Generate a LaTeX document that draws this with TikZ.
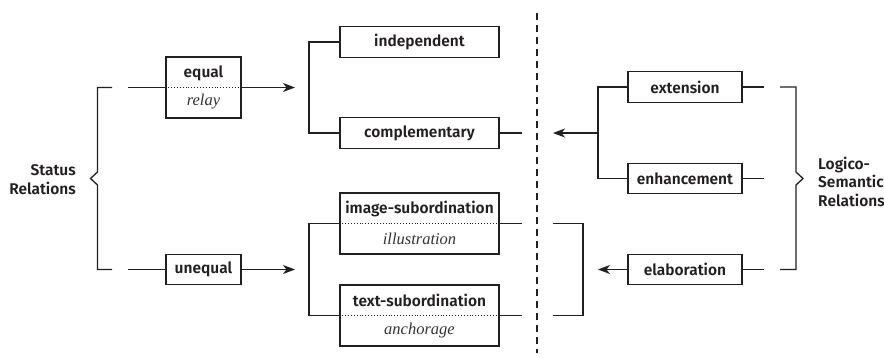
\documentclass[tikz,border=0pt]{standalone}
\usepackage{fontspec}
\setmainfont{Fira Sans}[UprightFont={* SemiBold}]
\newfontfamily\itfnt{Liberation Serif}
\usetikzlibrary{arrows.meta}
\definecolor{ink}{HTML}{231F20}
\tikzset{
  box/.style={draw=ink, line width=1.3bp, inner sep=0pt, minimum width=159bp, minimum height=30.5bp},
  lab/.style={font=\fontsize{15.5bp}{17bp}\selectfont, text=ink, inner sep=0pt},
  itl/.style={font=\itfnt\itshape\fontsize{16.5bp}{18bp}\selectfont, text=black!80, inner sep=0pt},
  ln/.style={draw=ink, line width=1.3bp},
  arr/.style={draw=ink, fill=ink, line width=1.3bp, -{Stealth[length=12bp,width=9bp,inset=3.5bp]}},
  dotl/.style={draw=ink, line width=0.9bp, dotted},
}
\begin{document}
\begin{tikzpicture}[x=1bp,y=-1bp]
\useasboundingbox (0,0) rectangle (884,357);
% left boxes
\node[box, minimum width=75bp, minimum height=61bp] (equal) at (203.5,87.5) {};
\node[lab] (equalt) at (203.5,73) {equal};
\node[itl] (relay) at (203.5,102) {relay};
\draw[dotl] (equal.west) -- (equal.east);
\node[box, minimum width=75bp] (unequal) at (203.5,269.5) {};
\node[lab] at (unequal.center) {unequal};
% middle boxes
\node[box] (indep) at (419.5,42) {};
\node[lab] at (indep.center) {independent};
\node[box] (compl) at (419.5,133) {};
\node[lab] at (compl.center) {complementary};
\node[box, minimum height=61bp] (imgsub) at (419.5,223.5) {};
\node[lab] at (419.5,208.5) {image-subordination};
\node[itl] at (419.5,238.5) {illustration};
\draw[dotl] (imgsub.west) -- (imgsub.east);
\node[box, minimum height=61bp] (txtsub) at (419.5,315.5) {};
\node[lab] at (419.5,300.5) {text-subordination};
\node[itl] at (419.5,330.5) {anchorage};
\draw[dotl] (txtsub.west) -- (txtsub.east);
% right boxes
\node[box, minimum width=114bp] (ext) at (685,87) {};
\node[lab] at (ext.center) {extension};
\node[box, minimum width=114bp] (enh) at (685,178.5) {};
\node[lab] at (enh.center) {enhancement};
\node[box, minimum width=114bp] (elab) at (685,269.5) {};
\node[lab] at (elab.center) {elaboration};
% side labels
\node[lab, align=right, anchor=east, font=\fontsize{15.5bp}{19bp}\selectfont] (status) at (76,179.5) {Status\\Relations};
\node[lab, align=left, anchor=west, font=\fontsize{15.5bp}{18.5bp}\selectfont] (logico) at (818,181.5) {Logico-\\Semantic\\Relations};
% coordinates
\coordinate (sl1) at (128,87.5);
\coordinate (sl2) at (128,269.5);
\coordinate (ea) at (295,87.5);
\coordinate (ua) at (295,269.5);
\coordinate (cr) at (522,133);
\coordinate (ir) at (522,223.5);
\coordinate (tr) at (522,315.5);
\coordinate (la) at (553,133);
\coordinate (ela) at (598,269.5);
% status bracket
\draw[ln] (112,87.5) -- (97.5,87.5) -- (97.5,172) -- (90.5,178.5) -- (97.5,185) -- (97.5,269.5) -- (112,269.5);
\draw[ln] (sl1) -- (equal.west);
\draw[ln] (sl2) -- (unequal.west);
\draw[arr] (equal.east) -- (ea);
\draw[arr] (unequal.east) -- (ua);
% middle brackets
\draw[ln] (indep.west) -- (309,42) -- (309,133) -- (compl.west);
\draw[ln] (imgsub.west) -- (309,223.5) -- (309,315.5) -- (txtsub.west);
\draw[ln] (compl.east) -- (cr);
\draw[ln] (imgsub.east) -- (ir);
\draw[ln] (txtsub.east) -- (tr);
% dashed divider
\draw[ink, line width=1.2bp, dash pattern=on 7bp off 5bp] (537,13) -- (537,353);
% right side
\draw[ln] (553,223.5) -- (583,223.5) -- (583,315.5) -- (553,315.5);
\draw[ln] (ext.west) -- (598,87) -- (598,178.5) -- (enh.west);
\draw[arr] (598,133) -- (la);
\draw[arr] (elab.west) -- (ela);
\draw[ln] (ext.east) -- (764,87);
\draw[ln] (enh.east) -- (764,178.5);
\draw[ln] (elab.east) -- (764,269.5);
\draw[ln] (780,87) -- (796,87) -- (796,172) -- (803,178.5) -- (796,185) -- (796,269.5) -- (780,269.5);
\end{tikzpicture}
\end{document}
